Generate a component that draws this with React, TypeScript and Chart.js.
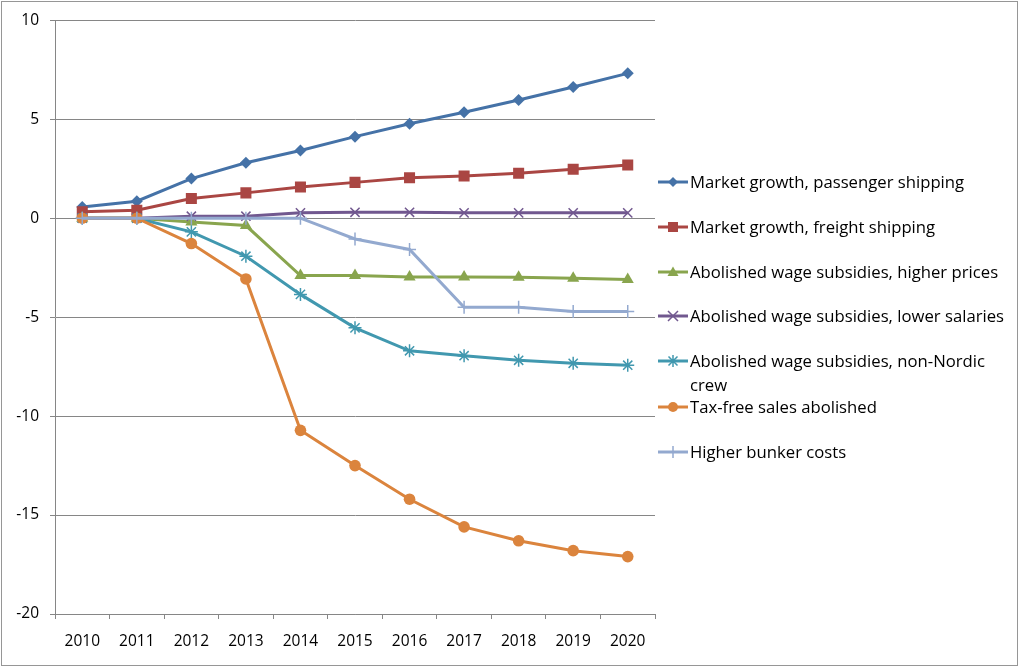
import React, { useEffect, useRef } from "react";
import { Chart, registerables } from "chart.js";

Chart.register(...registerables);

const years = ["2010", "2011", "2012", "2013", "2014", "2015", "2016", "2017", "2018", "2019", "2020"];
const passengerShipping = [0.57, 0.86, 2.0, 2.8, 3.42, 4.12, 4.77, 5.35, 5.97, 6.63, 7.32];
const freightShipping = [0.32, 0.4, 0.99, 1.28, 1.58, 1.81, 2.04, 2.13, 2.27, 2.47, 2.69];
const higherPrices = [0, 0, -0.19, -0.37, -2.9, -2.9, -2.97, -2.97, -2.98, -3.03, -3.1];
const lowerSalaries = [0, 0, 0.1, 0.1, 0.27, 0.3, 0.3, 0.27, 0.27, 0.27, 0.27];
const nonNordicCrew = [0, 0, -0.69, -1.92, -3.85, -5.54, -6.7, -6.95, -7.18, -7.33, -7.43];
const taxFreeAbolished = [0, 0, -1.28, -3.07, -10.72, -12.5, -14.2, -15.6, -16.3, -16.8, -17.1];
const bunkerCosts = [0, 0, 0, 0, 0, -1.05, -1.58, -4.5, -4.5, -4.72, -4.72];

const seriesNames = [
  "Market growth, passenger shipping",
  "Market growth, freight shipping",
  "Abolished wage subsidies, higher prices",
  "Abolished wage subsidies, lower salaries",
  "Abolished wage subsidies, non-Nordic crew",
  "Tax-free sales abolished",
  "Higher bunker costs",
];
const seriesData = [passengerShipping, freightShipping, higherPrices, lowerSalaries, nonNordicCrew, taxFreeAbolished, bunkerCosts];
const seriesColors = ["#4572A7", "#AA4643", "#89A54E", "#71588F", "#4198AF", "#DB843D", "#93A9CF"];
const seriesPoints = ["rectRot", "rect", "triangle", "crossRot", "star", "circle", "cross"];
const seriesRadius = [6, 7.8, 7, 6.5, 6.5, 5.8, 6.5];

const FONT = "'Open Sans', 'DejaVu Sans', sans-serif";
const GRID = "#868686";

function LegendMarker({ kind, color }: { kind: string; color: string }) {
  const cx = 15, cy = 8;
  let marker: any = null;
  if (kind === "rectRot") marker = <polygon points={`${cx},${cy - 5} ${cx + 5},${cy} ${cx},${cy + 5} ${cx - 5},${cy}`} fill={color} />;
  else if (kind === "rect") marker = <rect x={cx - 5} y={cy - 5} width={10} height={10} fill={color} />;
  else if (kind === "triangle") marker = <polygon points={`${cx},${cy - 5.5} ${cx + 5.5},${cy + 4} ${cx - 5.5},${cy + 4}`} fill={color} />;
  else if (kind === "crossRot") marker = <path d={`M${cx - 5},${cy - 5}L${cx + 5},${cy + 5}M${cx + 5},${cy - 5}L${cx - 5},${cy + 5}`} stroke={color} strokeWidth={1.5} />;
  else if (kind === "star") marker = <path d={`M${cx - 4.5},${cy - 4.5}L${cx + 4.5},${cy + 4.5}M${cx + 4.5},${cy - 4.5}L${cx - 4.5},${cy + 4.5}M${cx},${cy - 6}L${cx},${cy + 6}`} stroke={color} strokeWidth={1.5} />;
  else if (kind === "circle") marker = <circle cx={cx} cy={cy} r={5} fill={color} />;
  else if (kind === "cross") marker = <path d={`M${cx},${cy - 6}L${cx},${cy + 6}`} stroke={color} strokeWidth={1.5} />;
  return (
    <svg width={30} height={16} style={{ position: "absolute", left: 0, top: 0 }}>
      <line x1={0} y1={cy} x2={30} y2={cy} stroke={color} strokeWidth={3} />
      {marker}
    </svg>
  );
}

const legendCenters = [182, 227, 272, 316, 361, 407, 452];

export default function App() {
  const canvasRef = useRef<HTMLCanvasElement | null>(null);

  useEffect(() => {
    if (!canvasRef.current) return;
    const chart = new Chart(canvasRef.current, {
      type: "line",
      data: {
        labels: years,
        datasets: seriesNames.map((name, i) => ({
          label: name,
          data: seriesData[i],
          borderColor: seriesColors[i],
          backgroundColor: seriesColors[i],
          borderWidth: 3,
          pointStyle: seriesPoints[i] as any,
          pointRadius: seriesRadius[i],
          pointBorderWidth: ["crossRot", "star", "cross"].includes(seriesPoints[i]) ? 1.5 : 0,
          pointBorderColor: seriesColors[i],
          pointBackgroundColor: seriesColors[i],
          tension: 0,
          fill: false,
          order: 10 - i,
        })),
      },
      options: {
        animation: false,
        responsive: true,
        maintainAspectRatio: false,
        layout: { padding: { top: 19, right: 364, bottom: 0, left: 0 } },
        plugins: {
          legend: { display: false },
          tooltip: { enabled: false },
          title: { display: false },
        },
        scales: {
          x: {
            type: "category",
            offset: true,
            grid: {
              offset: true,
              drawOnChartArea: false,
              drawTicks: true,
              tickLength: 5,
              color: GRID,
              tickColor: GRID,
            },
            border: { display: true, color: GRID, width: 1 },
            ticks: {
              color: "#000",
              font: { family: FONT, size: 15.5 },
              padding: 13,
              maxRotation: 0,
              autoSkip: false,
            },
            afterFit: (scale: any) => {
              scale.height = 52;
            },
          },
          y: {
            min: -20,
            max: 10,
            ticks: {
              stepSize: 5,
              color: "#000",
              font: { family: FONT, size: 15.5 },
              padding: 11,
            },
            grid: {
              color: GRID,
              tickColor: GRID,
              tickLength: 5,
              lineWidth: 1,
            },
            border: { display: true, color: GRID, width: 1 },
            afterFit: (scale: any) => {
              scale.width = 55;
            },
          },
        },
      },
    });
    return () => chart.destroy();
  }, []);

  return (
    <div style={{ position: "fixed", left: 0, top: 0, width: 1019, height: 666, background: "#fff", overflow: "hidden" }}>
      <div style={{ position: "absolute", left: 0, top: 0, width: 1019, height: 666 }}>
        <canvas ref={canvasRef} />
      </div>
      <div
        style={{
          position: "absolute",
          left: 1,
          top: 1,
          width: 1017,
          height: 665,
          boxSizing: "border-box",
          border: "1px solid #969696",
          pointerEvents: "none",
        }}
      />
      {seriesNames.map((name, i) => {
        const parts = i === 4 ? ["Abolished wage subsidies, non-Nordic", "crew"] : [name];
        return (
          <div key={name} style={{ position: "absolute", left: 658, top: legendCenters[i] - 8, height: 16 }}>
            <LegendMarker kind={seriesPoints[i]} color={seriesColors[i]} />
            <div
              style={{
                position: "absolute",
                left: 32,
                top: -4,
                fontFamily: FONT,
                fontSize: 16.7,
                lineHeight: "24px",
                color: "#000",
                whiteSpace: "nowrap",
              }}
            >
              {parts.map((p, k) => (
                <div key={k}>{p}</div>
              ))}
            </div>
          </div>
        );
      })}
    </div>
  );
}
